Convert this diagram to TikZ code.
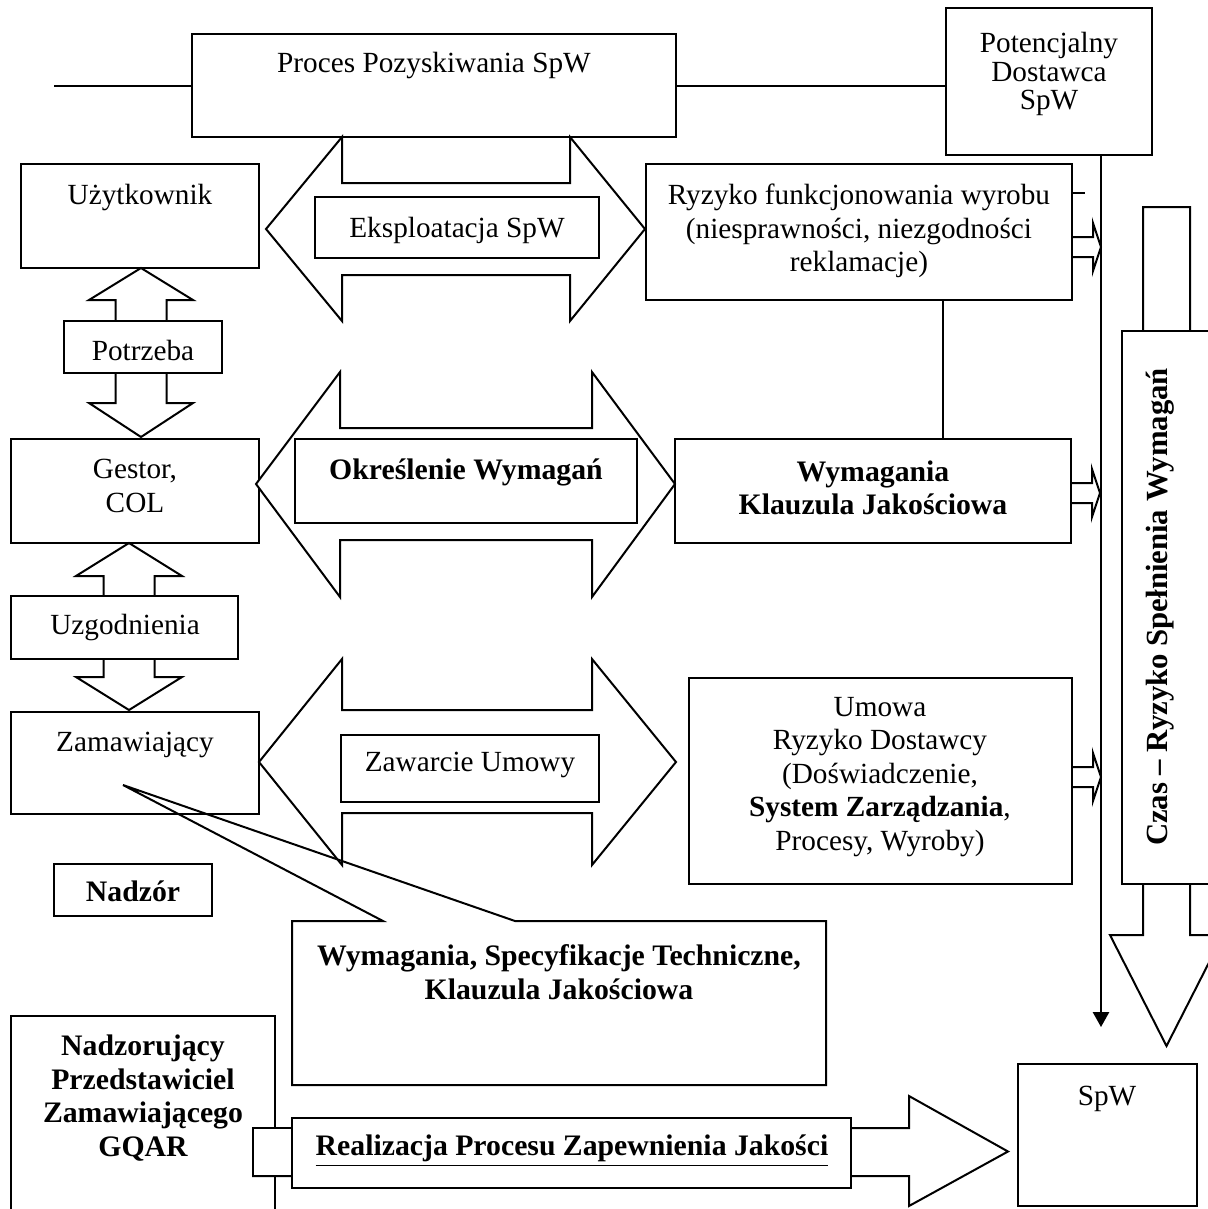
\documentclass[tikz,border=0pt]{standalone}
\usepackage{fontspec}
\setmainfont{Liberation Serif}
\usetikzlibrary{arrows.meta,calc}
% rectangle node from its two corners: [style]{name}{x1}{y1}{x2}{y2}
\newcommand\bx[6][box]{\node[#1,minimum width={(#5-#3)*0.4pt},minimum height={(#6-#4)*0.4pt}] (#2) at ({(#3+#5)/2},{(#4+#6)/2}) {};}
\begin{document}
\begin{tikzpicture}[x=0.4pt,y=-0.4pt,
  line width=0.8pt, line join=miter,
  box/.style={draw,rectangle,inner sep=0pt,outer sep=0pt},
  wbox/.style={box,fill=white},
  txt/.style={inner sep=0pt,align=center,font=\fontsize{11.7}{13.4}\selectfont},
  btxt/.style={txt,font=\fontsize{11.9}{13.4}\selectfont\bfseries},
  blockarrow/.style={draw,fill=white},
  smallarr/.pic={\draw (0,-10) -- (21,-10) -- (21,-24) -- (29,0) -- (21,24) -- (21,10) -- (0,10);}]
\useasboundingbox (0,0) rectangle (1208,1209);
\clip (0,0) rectangle (1208,1209);

% --- top row ---
\bx{proc}{192}{34}{676}{137}
\node[txt] (proc-t) at (434,65) {Proces Pozyskiwania SpW};
\bx{pot}{946}{8}{1152}{155}
\node[txt,font=\fontsize{11.7}{11.4}\selectfont] (pot-t) at (1049,74) {Potencjalny\\Dostawca\\SpW};
\coordinate (lineL) at (54,86);
\draw (lineL) -- (lineL -| proc.west);
\draw (proc.east |- lineL) -- (pot.west |- lineL);

% supplier line down to the product
\coordinate (vx) at (1101,1027);
\draw[-{Triangle[length=6pt,width=6.5pt]}] (pot.south -| vx) -- (vx);

% --- right column ---
\bx{ryz}{646}{164}{1072}{300}
\node[txt] (ryz-t) at (859,231) {Ryzyko funkcjonowania wyrobu\\(niesprawności, niezgodności\\reklamacje)};
\coordinate (tick) at (1085,193);
\draw (ryz.east |- tick) -- (tick);
\pic at (ryz.east |- 0,247) {smallarr};

\bx{wym}{675}{439}{1071}{543}
\node[btxt] (wym-t) at (873,488) {Wymagania\\Klauzula Jakościowa};
\coordinate (rw) at (943,0);
\draw (ryz.south -| rw) -- (wym.north -| rw);
\pic at (wym.east |- 0,493) {smallarr};

\bx{umowa}{689}{678}{1072}{884}
\node[txt] (umowa-t) at (880,777) {Umowa\\Ryzyko Dostawcy\\(Doświadczenie,\\\textbf{System Zarządzania},\\Procesy, Wyroby)};
\pic at (umowa.east |- 0,777) {smallarr};

% time / risk arrow
\draw[blockarrow] (1143,207) -- (1190,207) -- (1190,935) -- (1223,935) -- (1166.5,1046) -- (1110,935) -- (1143,935) -- cycle;
\bx[wbox]{czas}{1122}{331}{1240}{884}
\node[btxt,rotate=90,font=\fontsize{12.3}{13.4}\selectfont\bfseries] (czas-t) at (1160,607) {Czas – Ryzyko Spełnienia Wymagań};

% --- left column ---
\bx{uzyt}{21}{164}{259}{268}
\node[txt] (uzyt-t) at (140,197) {Użytkownik};
\draw[blockarrow] (141,268) -- (193,300) -- (166.5,300) -- (166.5,403) -- (193,403) -- (141,437) -- (89,403) -- (115.5,403) -- (115.5,300) -- (89,300) -- cycle;
\bx[wbox]{potrz}{64}{321}{222}{373}
\node[txt] (potrz-t) at (143,350) {Potrzeba};

\bx{gestor}{11}{439}{259}{543}
\node[txt] (gestor-t) at (135,486) {Gestor,\\COL};
\draw[blockarrow] (129,543) -- (182,576) -- (154.5,576) -- (154.5,677) -- (182,677) -- (129,710) -- (76,677) -- (103.5,677) -- (103.5,576) -- (76,576) -- cycle;
\bx[wbox]{uzg}{11}{596}{238}{659}
\node[txt] (uzg-t) at (125,627) {Uzgodnienia};

\bx{zam}{11}{712}{259}{814}
\node[txt] (zam-t) at (135,745) {Zamawiający};
\bx{nadz}{54}{864}{212}{916}
\node[btxt] (nadz-t) at (133,891) {Nadzór};

% --- middle double arrows ---
\draw[blockarrow] (266,229) -- (342,137) -- (342,183) -- (570,183) -- (570,137) -- (645,229) -- (570,321) -- (570,275) -- (342,275) -- (342,321) -- cycle;
\bx[wbox]{eksp}{315}{197}{599}{258}
\node[txt] (eksp-t) at (457,230) {Eksploatacja SpW};

\draw[blockarrow] (256,484) -- (340,372) -- (340,428) -- (592,428) -- (592,372) -- (675,484) -- (592,597) -- (592,540) -- (340,540) -- (340,597) -- cycle;
\bx[wbox]{okr}{295}{439}{637}{523}
\node[btxt] (okr-t) at (466,472) {Określenie Wymagań};

\draw[blockarrow] (259,762) -- (342,659) -- (342,710) -- (592,710) -- (592,659) -- (676,762) -- (592,865) -- (592,813) -- (342,813) -- (342,865) -- cycle;
\bx[wbox]{zaw}{341}{735}{599}{802}
\node[txt] (zaw-t) at (470,765) {Zawarcie Umowy};

% --- callout from the ordering party ---
\draw (383,921) -- (292,921) -- (292,1085) -- (826,1085) -- (826,921) -- (515,921) -- (123,785) -- cycle;
\node[btxt] (spec-t) at (559,972) {Wymagania, Specyfikacje Techniczne,\\Klauzula Jakościowa};

% --- bottom row ---
\bx{npz}{11}{1016}{275}{1240}
\node[btxt] (npz-t) at (143,1098) {Nadzorujący\\Przedstawiciel\\Zamawiającego\\GQAR};
\draw[blockarrow] (253,1128) -- (909,1128) -- (909,1096) -- (1008,1151.5) -- (909,1206) -- (909,1176) -- (253,1176) -- cycle;
\bx[wbox]{sq}{253}{1128}{292}{1176}
\bx[wbox]{real}{292}{1118}{851}{1188}
\node[btxt] (real-t) at (572,1151) {\underline{Realizacja Procesu Zapewnienia Jakości}};

\bx{spw}{1018}{1064}{1197}{1206}
\node[txt] (spw-t) at (1107,1099) {SpW};
\end{tikzpicture}
\end{document}
